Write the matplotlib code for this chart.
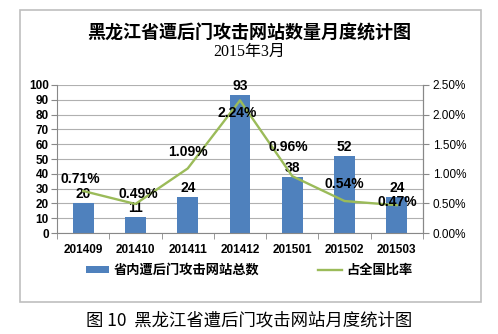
import matplotlib
matplotlib.use("Agg")
import matplotlib.pyplot as plt
from matplotlib.patches import Rectangle
from matplotlib.font_manager import FontProperties
from matplotlib.ticker import FuncFormatter, MultipleLocator
import numpy as np

plt.rcParams['font.family'] = ['Noto Sans CJK SC', 'DejaVu Sans']

months = ["201409", "201410", "201411", "201412", "201501", "201502", "201503"]
counts = [20, 11, 24, 93, 38, 52, 24]
ratios = [0.71, 0.49, 1.09, 2.24, 0.96, 0.54, 0.47]   # percent

# offsets (points) for the percent labels
pct_offsets = [(-2, 3.5), (2, 2), (0, 7), (-2, -14), (-3, 16), (0, 7), (0, -3)]

bar_color = "#4F81BD"
line_color = "#9BBB59"
num_font = dict(family="Liberation Sans", fontweight="bold")

fig = plt.figure(figsize=(4.98, 3.34), dpi=100)

# outer frame
fig.patches.append(Rectangle((20 / 498, 1 - 302 / 334), 461 / 498, 292 / 334,
                             transform=fig.transFigure, fill=False,
                             edgecolor="#BFBFBF", linewidth=1.2))

ax = fig.add_axes([57 / 498, 1 - 233 / 334, 366 / 498, 148 / 334])
x = np.arange(len(months))

bars = ax.bar(x, counts, width=0.4, color=bar_color, zorder=2,
              label="省内遭后门攻击网站总数")
ax.set_xlim(-0.5, len(months) - 0.5)
ax.set_ylim(0, 100)
ax.yaxis.set_major_locator(MultipleLocator(10))
ax.grid(axis="y", color="#B0B0B0", linewidth=0.8, zorder=0)
ax.set_axisbelow(True)
ax.spines["top"].set_visible(False)
for s in ["left", "bottom", "right"]:
    ax.spines[s].set_color("#888888")
ax.set_xticks(x)
ax.set_xticklabels(months, **num_font, fontsize=8.5)
ax.tick_params(axis="x", length=0, pad=8)
ax.set_xticks(np.arange(-0.5, len(months)), minor=True)
ax.tick_params(axis="x", which="minor", length=4, color="#888888")
ax.tick_params(axis="y", length=4, color="#888888", pad=2)
for lbl in ax.get_yticklabels():
    lbl.set_fontproperties(FontProperties(family="Liberation Sans", weight="bold", size=8.5))

for xi, c in zip(x, counts):
    ax.annotate(str(c), (xi, c), xytext=(0, 1.5), textcoords="offset points",
                ha="center", va="bottom", fontsize=10, **num_font)

ax2 = ax.twinx()
ax2.set_ylim(0, 2.5)
ax2.yaxis.set_major_locator(MultipleLocator(0.5))
ax2.yaxis.set_major_formatter(FuncFormatter(lambda v, p: "%.2f%%" % v))
line, = ax2.plot(x, ratios, color=line_color, linewidth=1.7, label="占全国比率")
for s in ["top", "left", "bottom"]:
    ax2.spines[s].set_visible(False)
ax2.spines["right"].set_color("#888888")
ax2.tick_params(axis="y", length=4, color="#888888", pad=3)
for lbl in ax2.get_yticklabels():
    lbl.set_fontproperties(FontProperties(family="Liberation Sans", size=8.5))

for xi, r, off in zip(x, ratios, pct_offsets):
    ax2.annotate("%.2f%%" % r, (xi, r), xytext=off, textcoords="offset points",
                 ha="center", va="bottom", fontsize=10, **num_font)

fig.text(0.5, 1 - 33 / 334, "黑龙江省遭后门攻击网站数量月度统计图", ha="center", va="center",
         fontsize=13, fontweight="bold")
fig.text(0.5, 1 - 52 / 334, "2015年3月", ha="center", va="center",
         fontsize=11.5, family=["Liberation Serif", "Noto Sans CJK SC"])

fig.legend([bars, line], ["省内遭后门攻击网站总数", "占全国比率"], loc="center",
           bbox_to_anchor=(0.5, 1 - 270 / 334), ncol=2, frameon=False,
           prop=dict(family="Noto Sans CJK SC", weight="bold", size=9.5),
           handlelength=1.8, handleheight=0.5, handletextpad=0.3, columnspacing=4.5)

fig.text(0.5, 1 - 320 / 334, "图 10  黑龙江省遭后门攻击网站月度统计图", ha="center",
         va="center", fontsize=12.5, fontweight="light")

fig.savefig("out.png", dpi=100)
